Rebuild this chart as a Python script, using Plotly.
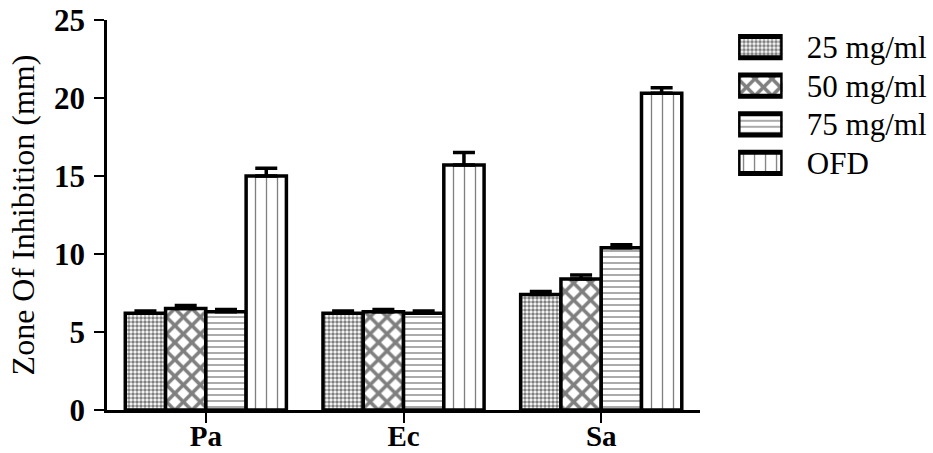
import plotly.graph_objects as go

categories = ["Pa", "Ec", "Sa"]
series_names = ["25 mg/ml", "50 mg/ml", "75 mg/ml", "OFD"]
values_25 = [6.2, 6.2, 7.4]
values_50 = [6.5, 6.3, 8.4]
values_75 = [6.3, 6.2, 10.4]
values_ofd = [15.0, 15.7, 20.3]
err_25 = [0.15, 0.15, 0.2]
err_50 = [0.2, 0.15, 0.25]
err_75 = [0.15, 0.15, 0.2]
err_ofd = [0.5, 0.8, 0.35]
y_ticks = [0, 5, 10, 15, 20, 25]

series_values = [values_25, values_50, values_75, values_ofd]
series_errs = [err_25, err_50, err_75, err_ofd]
patterns = [
    dict(shape=".", size=4, solidity=0.6),
    dict(shape="x", size=12, solidity=0.5),
    dict(shape="-", size=6, solidity=0.22),
    dict(shape="|", size=11, solidity=0.12),
]

SERIF = "Liberation Serif"
fig = go.Figure()
for name, vals, errs, pat in zip(series_names, series_values, series_errs, patterns):
    fig.add_trace(go.Bar(
        x=categories, y=vals, name=name, showlegend=False,
        marker=dict(color="white", line=dict(color="black", width=3.5),
                    pattern=dict(fgcolor="black", bgcolor="white", fillmode="overlay", **pat)),
        error_y=dict(type="data", array=errs, arrayminus=[0] * len(errs), symmetric=False,
                     color="black", thickness=3.5, width=11),
        xaxis="x", yaxis="y",
    ))

# custom legend: one swatch per series on a small categorical axis
for name, pat in zip(series_names, patterns):
    fig.add_trace(go.Bar(
        y=[name], x=[1], orientation="h", showlegend=False, hoverinfo="skip",
        marker=dict(color="white", line=dict(color="black", width=5),
                    pattern=dict(fgcolor="black", bgcolor="white", fillmode="overlay", **pat)),
        xaxis="x2", yaxis="y2",
    ))

fig.update_layout(
    width=933, height=453,
    margin=dict(l=107, r=0, t=20, b=43, autoexpand=False),
    plot_bgcolor="white", paper_bgcolor="white",
    barmode="group", bargap=0.185, bargroupgap=0,
    font=dict(family=SERIF, color="black"),
    xaxis=dict(domain=[0, 0.718], showline=True, linecolor="black", linewidth=2.5, ticks="outside",
               ticklen=10, tickwidth=2, tickcolor="black", automargin=False,
               tickfont=dict(size=29, family=SERIF, weight="bold"), ticklabelstandoff=-12,
               showgrid=False, range=[-0.5, 2.5], anchor="y"),
    yaxis=dict(domain=[0, 1], showline=True, linecolor="black", linewidth=2.5, ticks="outside",
               ticklen=10, tickwidth=2, tickcolor="black", range=[0, 25], automargin=False,
               tickvals=y_ticks, tickfont=dict(size=31, family=SERIF, weight="bold"),
               ticklabelstandoff=3,
               showgrid=False, zeroline=False, anchor="x",
               title=dict(text="Zone Of Inhibition (mm)", font=dict(size=32, family=SERIF), standoff=10)),
    xaxis2=dict(domain=[0.764, 0.818], range=[0, 1], visible=False, anchor="y2", fixedrange=True),
    yaxis2=dict(domain=[0.584, 0.98], type="category", autorange="reversed", anchor="x2",
                side="right", showline=False, showgrid=False, zeroline=False, automargin=False,
                ticks="outside", ticklen=17, tickcolor="rgba(0,0,0,0)",
                tickfont=dict(size=31, family=SERIF), fixedrange=True),
)
fig.update_traces(selector=dict(xaxis="x2"), width=0.55)

fig.write_html("out.html", config={"displayModeBar": False},
               post_script="document.body.style.margin='0px';")
